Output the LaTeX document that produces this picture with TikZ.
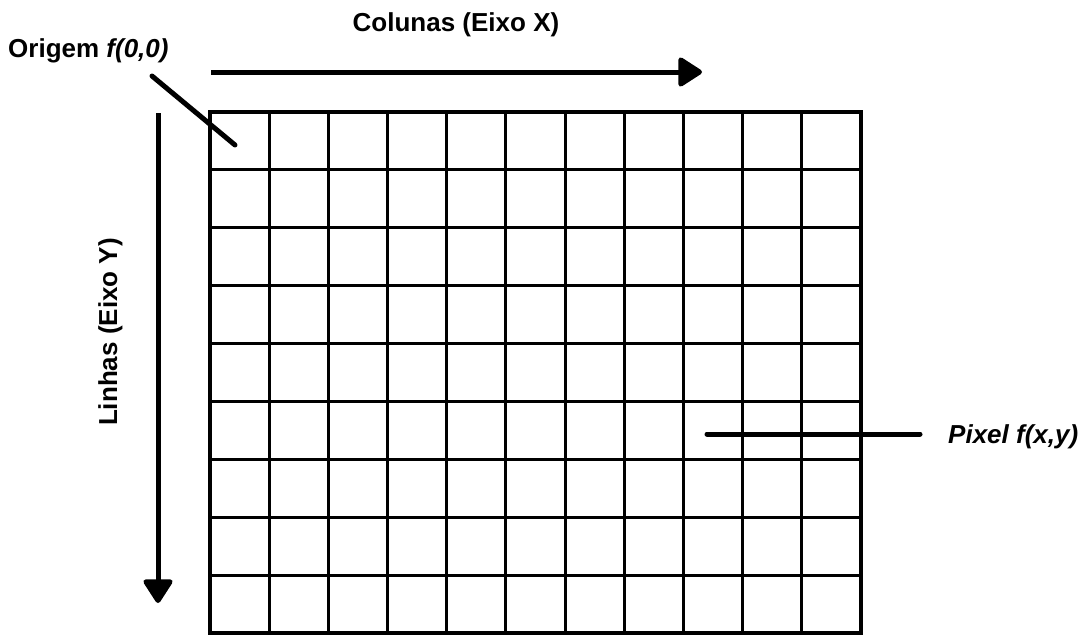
\documentclass[tikz,border=0pt]{standalone}
\usepackage{fontspec}
\setmainfont{Liberation Sans}
\usetikzlibrary{arrows.meta}
\begin{document}
\begin{tikzpicture}[x=1pt, y=-1pt,
    lbl/.style={font=\fontsize{26}{30}\selectfont\bfseries, inner sep=0pt},
    axis/.style={line width=5pt, -{Triangle[length=26pt, width=32pt, round]}},
    pointer/.style={line width=5pt, line cap=round}]
    \useasboundingbox (0,0) rectangle (1086,635);
    % grid of pixels
    \foreach \i in {1,...,10}
      \draw[line width=3pt] (210+\i*59.18,112) -- (210+\i*59.18,633);
    \foreach \j in {1,...,8}
      \draw[line width=3pt] (210,112+\j*57.9) -- (861,112+\j*57.9);
    \draw[line width=4pt] (210,112) rectangle (861,633);
    % labels
    \node[lbl, anchor=base] (colunas) at (456,31) {Colunas (Eixo X)};
    \node[lbl, anchor=base west] (origem) at (8,57) {Origem \textit{f(0,0)}};
    \node[lbl, anchor=base west] (pixel) at (948,443) {\textit{Pixel f(x,y)}};
    \node[lbl, rotate=90, anchor=base] (linhas) at (117,332) {Linhas (Eixo Y)};
    \coordinate (xstart) at (211,72);
    \coordinate (xend) at (702,72);
    \coordinate (ystart) at (158,113);
    \coordinate (yend) at (158,603);
    \coordinate (ostart) at (152,76);
    \coordinate (oend) at (235,145);
    \coordinate (pstart) at (707,434);
    \coordinate (pend) at (920,434);
    % axes and pointers
    \draw[axis] (xstart) -- (xend);
    \draw[axis] (ystart) -- (yend);
    \draw[pointer] (ostart) -- (oend);
    \draw[pointer] (pstart) -- (pend);
\end{tikzpicture}
\end{document}
